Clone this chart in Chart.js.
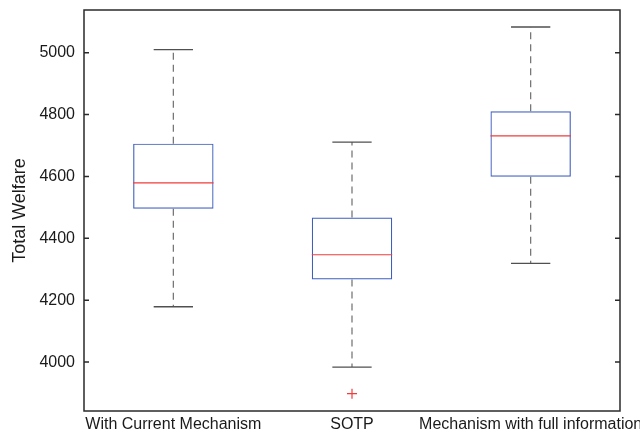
<!DOCTYPE html>
<html>
<head>
<meta charset="utf-8">
<script src="https://cdn.jsdelivr.net/npm/chart.js@4"></script>
<style>
  html, body { margin: 0; padding: 0; background: #fff; }
  #wrap { width: 640px; height: 434px; }
</style>
</head>
<body>
<div id="wrap"><canvas id="boxChart"></canvas></div>
<script>
const categories = ['With Current Mechanism', 'SOTP', 'Mechanism with full information'];
const whiskerLow = [4179, 3984, 4319];
const q1 = [4496, 4267, 4599];
const median = [4579, 4347, 4731];
const q3 = [4706, 4467, 4811];
const whiskerHigh = [5010, 4711, 5083];
const outlierCat = ['SOTP'];
const outlierVal = [3898];

const yMin = 3842, yMax = 5138;

// whiskers, caps, medians, frame and inward ticks
const boxExtras = {
  id: 'boxExtras',
  afterDatasetsDraw(chart) {
    const ctx = chart.ctx;
    const x = chart.scales.x, y = chart.scales.y;
    const catW = x.width / categories.length;
    const boxHalf = catW * 0.45 / 2;
    const capHalf = catW * 0.11;
    ctx.save();
    categories.forEach((c, i) => {
      const cx = x.getPixelForValue(i);
      // dashed whiskers
      ctx.strokeStyle = '#6e6e6e';
      ctx.lineWidth = 1.2;
      ctx.setLineDash([7, 5]);
      ctx.beginPath();
      ctx.moveTo(cx, y.getPixelForValue(q3[i]));
      ctx.lineTo(cx, y.getPixelForValue(whiskerHigh[i]));
      ctx.moveTo(cx, y.getPixelForValue(q1[i]));
      ctx.lineTo(cx, y.getPixelForValue(whiskerLow[i]));
      ctx.stroke();
      ctx.setLineDash([]);
      // caps
      ctx.strokeStyle = '#505050';
      ctx.lineWidth = 1.3;
      ctx.beginPath();
      [whiskerHigh[i], whiskerLow[i]].forEach(v => {
        const py = y.getPixelForValue(v);
        ctx.moveTo(cx - capHalf, py);
        ctx.lineTo(cx + capHalf, py);
      });
      ctx.stroke();
      // median
      ctx.strokeStyle = '#f03c3c';
      ctx.lineWidth = 1.2;
      ctx.beginPath();
      const my = y.getPixelForValue(median[i]);
      ctx.moveTo(cx - boxHalf, my);
      ctx.lineTo(cx + boxHalf, my);
      ctx.stroke();
    });
    // frame
    const a = chart.chartArea;
    ctx.strokeStyle = '#2a2a2a';
    ctx.lineWidth = 1.5;
    ctx.strokeRect(a.left, a.top, a.right - a.left, a.bottom - a.top);
    // inward tick marks on left and right
    ctx.beginPath();
    y.ticks.forEach(t => {
      const py = y.getPixelForValue(t.value);
      ctx.moveTo(a.left, py);
      ctx.lineTo(a.left + 5, py);
      ctx.moveTo(a.right, py);
      ctx.lineTo(a.right - 5, py);
    });
    ctx.stroke();
    ctx.restore();
  }
};

const boxData = {
  labels: categories,
  datasets: [
    {
      type: 'bar',
      data: categories.map((c, i) => [q1[i], q3[i]]),
      backgroundColor: 'rgba(255,255,255,0)',
      borderColor: '#3f5fbf',
      borderWidth: 1.2,
      borderSkipped: false,
      barPercentage: 0.45,
      categoryPercentage: 1.0
    },
    {
      type: 'scatter',
      data: outlierCat.map((c, i) => ({ x: c, y: outlierVal[i] })),
      pointStyle: 'cross',
      radius: 5,
      borderColor: '#f03c3c',
      borderWidth: 1.2,
      backgroundColor: '#f03c3c'
    }
  ]
};

const boxConfig = {
  type: 'bar',
  data: boxData,
  plugins: [boxExtras],
  options: {
    responsive: true,
    maintainAspectRatio: false,
    animation: false,
    events: [],
    layout: { padding: { top: 10, right: 20, left: 0, bottom: 0 } },
    plugins: { legend: { display: false }, tooltip: { enabled: false } },
    scales: {
      x: {
        type: 'category',
        offset: true,
        grid: { display: false, drawTicks: false },
        border: { display: false },
        ticks: {
          autoSkip: false,
          maxRotation: 0,
          minRotation: 0,
          padding: 4,
          color: '#1a1a1a',
          font: { family: 'Liberation Sans', size: 16 }
        },
        afterFit(scale) {
          scale.paddingLeft = 0;
          scale.paddingRight = 0;
          scale.height = 23;
        }
      },
      y: {
        min: yMin,
        max: yMax,
        grid: { display: false, drawTicks: false },
        border: { display: false },
        ticks: {
          stepSize: 200,
          includeBounds: false,
          padding: 9,
          color: '#1a1a1a',
          font: { family: 'Liberation Sans', size: 16 },
          callback: (v) => String(v)
        },
        title: {
          display: true,
          text: 'Total Welfare',
          color: '#1a1a1a',
          padding: { top: 9, bottom: 0 },
          font: { family: 'Liberation Sans', size: 18 }
        },
        afterFit(scale) {
          scale.width = 84;
          scale.paddingTop = 0;
          scale.paddingBottom = 0;
        }
      }
    }
  }
};

const boxChart = new Chart(document.getElementById('boxChart'), boxConfig);
</script>
</body>
</html>
